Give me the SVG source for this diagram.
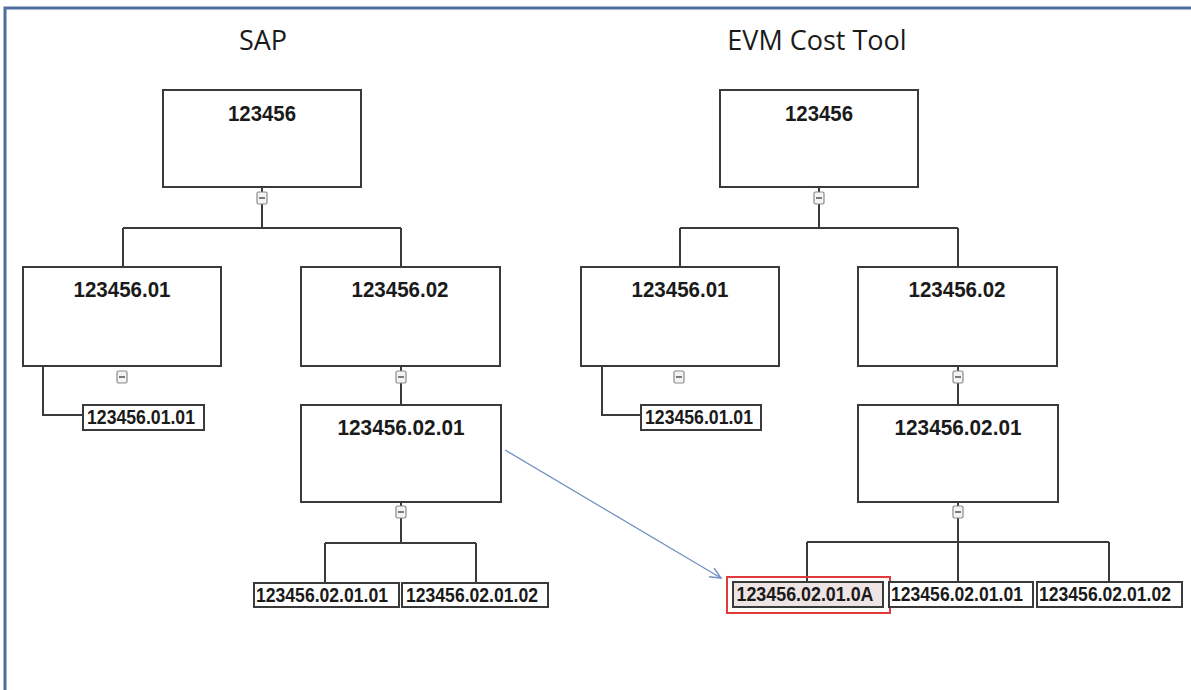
<svg xmlns="http://www.w3.org/2000/svg" width="1191" height="690" viewBox="0 0 1191 690">
<defs>
<style>
.box{fill:#fff;stroke:#3a3a3a;stroke-width:2}
.leaf{fill:#fff;stroke:#3a3a3a;stroke-width:2}
.conn{fill:none;stroke:#3a3a3a;stroke-width:2}
.lbl{font-family:"Liberation Sans",Arial,sans-serif;font-weight:bold;font-size:22px;fill:#1a1a1a;text-anchor:middle}
.lleaf{font-family:"Liberation Sans",Arial,sans-serif;font-weight:bold;font-size:20px;fill:#1a1a1a;text-anchor:middle}
.title{font-family:"Open Sans","Liberation Sans",sans-serif;font-size:27px;fill:#1a1a1a;text-anchor:middle}
.icon{fill:#f4f4f4;stroke:#8a8a8a;stroke-width:1.2}
.minus{stroke:#555;stroke-width:1.5}
</style>
<marker id="arr" markerWidth="14" markerHeight="12" refX="12" refY="6" orient="auto" markerUnits="userSpaceOnUse">
<path d="M1,1 L12,6 L1,11" fill="none" stroke="#7392c0" stroke-width="1.5"/>
</marker>
<g id="ic"><rect class="icon" x="-5" y="0" width="10" height="12" rx="1.5"/><line class="minus" x1="-3" y1="6" x2="3" y2="6"/></g>
</defs>
<rect x="0" y="0" width="1191" height="690" fill="#fff"/>
<rect x="5" y="8" width="1200" height="700" fill="#fff" stroke="#4f6e9e" stroke-width="3"/>

<text class="title" x="263" y="50">SAP</text>
<text class="title" x="817" y="50">EVM Cost Tool</text>

<g id="connectors">
<path class="conn" d="M262,187 V228 M123,228 H401 M123,228 V267 M401,228 V267"/>
<path class="conn" d="M43,366 V415 H83"/>
<path class="conn" d="M401,366 V405"/>
<path class="conn" d="M401,502 V543 M325,543 H476 M325,543 V583 M476,543 V583"/>
<path class="conn" d="M819,187 V228 M680,228 H958 M680,228 V267 M958,228 V267"/>
<path class="conn" d="M602,366 V415 H641"/>
<path class="conn" d="M958,366 V405"/>
<path class="conn" d="M958,502 V542 M807,542 H1109 M807,542 V582 M958,542 V582 M1109,542 V582"/>
<line x1="505" y1="450" x2="721" y2="578" stroke="#7392c0" stroke-width="1.3" marker-end="url(#arr)"/>
</g>

<g id="sap-root"><rect class="box" x="163" y="90" width="198" height="97"/><text class="lbl" x="262" y="121" textLength="68" lengthAdjust="spacingAndGlyphs">123456</text></g>
<g id="sap-01"><rect class="box" x="23" y="267" width="198" height="99"/><text class="lbl" x="122" y="297" textLength="97" lengthAdjust="spacingAndGlyphs">123456.01</text></g>
<g id="sap-02"><rect class="box" x="301" y="267" width="199" height="99"/><text class="lbl" x="400" y="297" textLength="97" lengthAdjust="spacingAndGlyphs">123456.02</text></g>
<g id="sap-0101"><rect class="leaf" x="83" y="405" width="121" height="25"/><text class="lleaf" x="141" y="424" textLength="108" lengthAdjust="spacingAndGlyphs">123456.01.01</text></g>
<g id="sap-0201"><rect class="box" x="301" y="405" width="200" height="97"/><text class="lbl" x="401" y="435" textLength="127" lengthAdjust="spacingAndGlyphs">123456.02.01</text></g>
<g id="sap-020101"><rect class="leaf" x="254" y="583" width="145" height="24"/><text class="lleaf" x="322" y="602" textLength="132" lengthAdjust="spacingAndGlyphs">123456.02.01.01</text></g>
<g id="sap-020102"><rect class="leaf" x="402" y="583" width="146" height="24"/><text class="lleaf" x="472" y="602" textLength="132" lengthAdjust="spacingAndGlyphs">123456.02.01.02</text></g>

<g id="evm-root"><rect class="box" x="720" y="90" width="198" height="97"/><text class="lbl" x="819" y="121" textLength="68" lengthAdjust="spacingAndGlyphs">123456</text></g>
<g id="evm-01"><rect class="box" x="581" y="267" width="198" height="99"/><text class="lbl" x="680" y="297" textLength="97" lengthAdjust="spacingAndGlyphs">123456.01</text></g>
<g id="evm-02"><rect class="box" x="858" y="267" width="199" height="99"/><text class="lbl" x="957" y="297" textLength="97" lengthAdjust="spacingAndGlyphs">123456.02</text></g>
<g id="evm-0101"><rect class="leaf" x="641" y="405" width="120" height="25"/><text class="lleaf" x="699" y="424" textLength="108" lengthAdjust="spacingAndGlyphs">123456.01.01</text></g>
<g id="evm-0201"><rect class="box" x="858" y="405" width="200" height="97"/><text class="lbl" x="958" y="435" textLength="127" lengthAdjust="spacingAndGlyphs">123456.02.01</text></g>
<g id="evm-02010A"><rect x="727" y="577" width="163" height="36" fill="none" stroke="#e03a3a" stroke-width="2"/><rect class="leaf" x="733" y="582" width="150" height="25" style="fill:#efe4e4"/><text class="lleaf" x="805" y="601" textLength="137" lengthAdjust="spacingAndGlyphs">123456.02.01.0A</text></g>
<g id="evm-020101"><rect class="leaf" x="889" y="582" width="144" height="25"/><text class="lleaf" x="957" y="601" textLength="132" lengthAdjust="spacingAndGlyphs">123456.02.01.01</text></g>
<g id="evm-020102"><rect class="leaf" x="1037" y="582" width="145" height="25"/><text class="lleaf" x="1105" y="601" textLength="132" lengthAdjust="spacingAndGlyphs">123456.02.01.02</text></g>

<g id="icons">
<use href="#ic" x="262" y="192"/>
<use href="#ic" x="122" y="371"/>
<use href="#ic" x="401" y="371"/>
<use href="#ic" x="401" y="506"/>
<use href="#ic" x="819" y="192"/>
<use href="#ic" x="679" y="371"/>
<use href="#ic" x="958" y="371"/>
<use href="#ic" x="958" y="506"/>
</g>
</svg>
